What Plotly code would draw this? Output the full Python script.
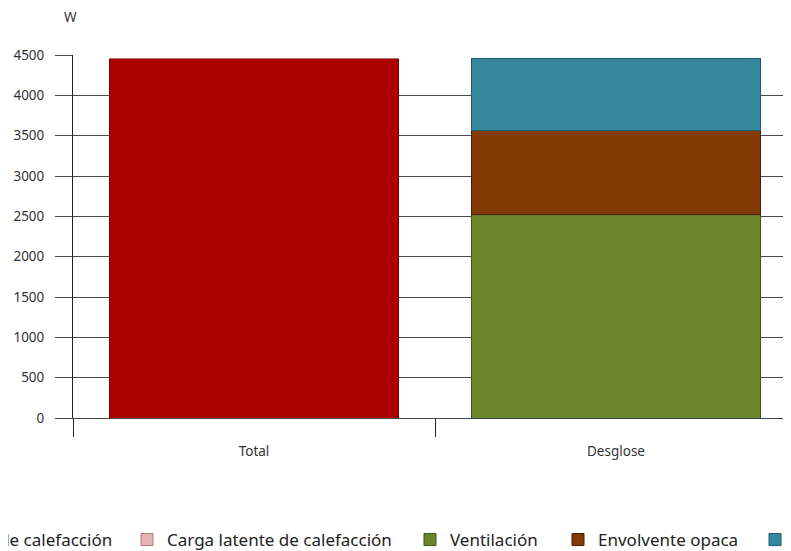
import plotly.graph_objects as go

# datos
categorias = ["Total", "Desglose"]
series = ["Carga sensible de calefacción", "Carga latente de calefacción",
          "Ventilación", "Envolvente opaca", "Huecos"]
categoria_serie = ["Total", "Total", "Desglose", "Desglose", "Desglose"]
valores = [4460, 0, 2528, 1034, 898]
colores = ["#AA0000", "#E2B4B6", "#68852A", "#843A05", "#35879C"]
bordes = ["#7A0000", "#B07878", "#3E5712", "#4A1C00", "#1B5C6E"]
yticks = [0, 500, 1000, 1500, 2000, 2500, 3000, 3500, 4000, 4500]

# the page body adds an 8px margin, so the figure is 8px smaller
OFF = 8
W, H = 791 - OFF, 551 - OFF
ML, MT, MB = 65, 47, 133
PW = W - ML
PH = H - MT - MB


def px_x(px):
    # page pixel -> paper coordinate
    return (px - OFF - ML) / PW


def px_y(py):
    return (H - MB - (py - OFF)) / PH


# swatch centre of each legend entry, page pixels
legend_px = [None, 146, 429, 577, 774]

fig = go.Figure()
for i, name in enumerate(series):
    lg = "legend" if i == 0 else "legend%d" % (i + 1)
    fig.add_trace(go.Bar(
        x=[categoria_serie[i]], y=[valores[i]], name=name,
        marker=dict(color=colores[i], line=dict(color=bordes[i], width=1)),
        legend=lg, showlegend=True,
    ))

legend_font = dict(family="Noto Sans", size=17, color="#222222")
for i in range(len(series)):
    key = "legend" if i == 0 else "legend%d" % (i + 1)
    if i == 0:
        pos = dict(x=px_x(118), xanchor="right")
    else:
        pos = dict(x=px_x(legend_px[i] - 19), xanchor="left")
    fig.update_layout({key: dict(
        orientation="h", y=px_y(540), yanchor="middle", font=legend_font,
        bgcolor="rgba(0,0,0,0)", visible=True, **pos,
    )})

fig.update_layout(
    width=W, height=H, showlegend=True,
    margin=dict(l=ML, r=0, t=MT, b=MB, autoexpand=False),
    barmode="stack", bargap=0.2,
    plot_bgcolor="white", paper_bgcolor="white",
    font=dict(family="Noto Sans", size=13.5, color="#333333"),
    xaxis=dict(
        categoryorder="array", categoryarray=categorias,
        range=[-0.5, -0.5 + PW / 362],
        showline=True, linecolor="#444444", linewidth=1,
        ticks="outside", tickson="boundaries", ticklen=18,
        tickcolor="#222222", showgrid=False, zeroline=False,
        ticklabelstandoff=21,
    ),
    yaxis=dict(
        range=[0, 4500], tickvals=yticks,
        showgrid=True, gridcolor="#4A4A4A", gridwidth=1,
        ticks="outside", ticklen=17, tickcolor="#4A4A4A",
        showline=True, linecolor="#222222", linewidth=1,
        zeroline=False, ticklabelstandoff=8,
    ),
    annotations=[dict(
        text="W", x=px_x(70), y=px_y(17), xref="paper", yref="paper",
        xanchor="center", yanchor="middle",
        showarrow=False, font=dict(size=13.5, color="#333333"),
    )],
)

fig.write_html("out.html")
